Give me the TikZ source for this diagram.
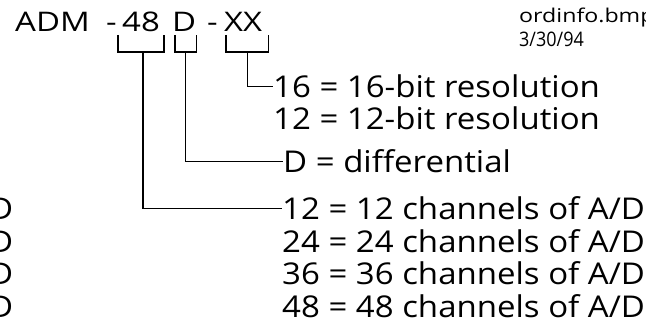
\documentclass[tikz,border=0pt]{standalone}
\usepackage{fontspec}
\setmainfont{Open Sans}
\newfontfamily\capface[FakeStretch=1.22]{Open Sans}
\newfontfamily\itemface[FakeStretch=1.1]{Open Sans}
\newfontfamily\fileface[FakeStretch=1.22]{Open Sans}
\newfontfamily\dateface[FakeStretch=0.9]{Open Sans}
\usetikzlibrary{positioning}
\begin{document}
\begin{tikzpicture}[x=1pt,y=-1pt,
	every node/.style={inner sep=0pt,anchor=base west},
	part/.style={font=\capface\fontsize{27}{27}\selectfont},
	item/.style={font=\itemface\fontsize{30}{30}\selectfont},
	stamp/.style={font=\fileface\fontsize{19}{19}\selectfont},
	tie/.style={line width=1.3pt}]

  \useasboundingbox (0,0) rectangle (646,320);
  \clip (0,0) rectangle (646,320);

  % part number
  \node [part] (adm) at (15,32) {ADM};
  \node [part] (dash1) at (106,32) {-};
  \node [part] (p48) at (122,32) {48};
  \node [part] (pd) at (172,32) {D};
  \node [part] (dash2) at (207,32) {-};
  \node [part] (pxx) at (224,32) {XX};

  \node [stamp] (file) at (519,23) {ordinfo.bmp};
  \node [stamp,font=\dateface\fontsize{20}{20}\selectfont] (date) at (519,47) {3/30/94};

  % options
  \node [item] (res16) at (273,98) {16 = 16-bit resolution};
  \node [item] (res12) at (273,130) {12 = 12-bit resolution};
  \node [item] (diff) at (283,173) {D = differential};
  \foreach \n [count=\i] in {12,24,36,48}{
	  \node [item] (ch\n) at (282,{220+32.5*(\i-1)}) {\n{} = \n{} channels of A/D};
	  \node [item,anchor=base east] (wrap\n) at (13.5,{220+32.5*(\i-1)}) {D};
  }

  % brackets
  \draw [tie] ([xshift=-4pt,yshift=-3pt]p48.base west) -- ++(0,17) -| ([xshift=4pt,yshift=-3pt]p48.base east);
  \draw [tie] ([xshift=3pt,yshift=-3pt]pd.base west) -- ++(0,17) -| ([xshift=0pt,yshift=-3pt]pd.base east);
  \draw [tie] ([xshift=2pt,yshift=-3pt]pxx.base west) -- ++(0,17) -| ([xshift=6pt,yshift=-3pt]pxx.base east);

  \draw [tie] ([xshift=2pt,yshift=-20pt]p48.base) |- (ch12.west);
  \draw [tie] ([xshift=1.5pt,yshift=-20pt]pd.base) |- (diff.west);
  \draw [tie] ([xshift=4pt,yshift=-20pt]pxx.base) |- (res16.west);

\end{tikzpicture}
\end{document}
